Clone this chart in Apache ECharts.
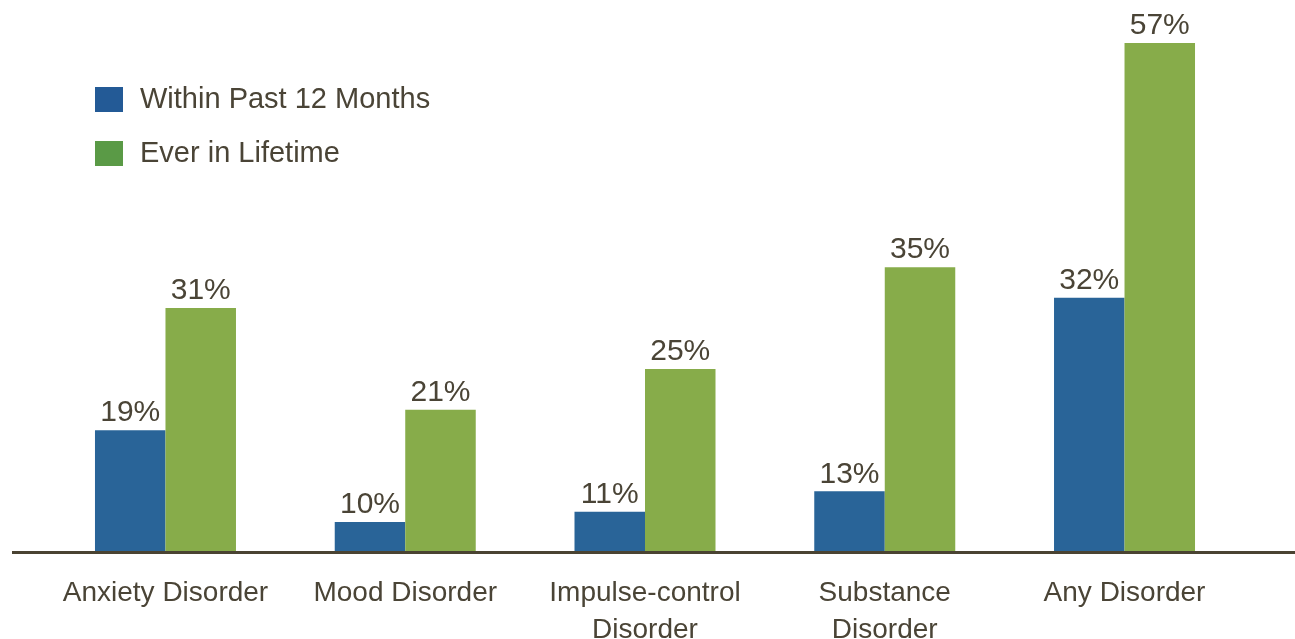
<!DOCTYPE html>
<html>
<head>
<meta charset="utf-8">
<script src="https://cdn.jsdelivr.net/npm/echarts@6/dist/echarts.min.js"></script>
<style>
  html, body { margin: 0; padding: 0; background: #ffffff; }
  #chart { width: 1295px; height: 639px; }
</style>
</head>
<body>
<div id="chart"></div>
<script>
// Prevalence of mental disorders, by time frame
const categories = ['Anxiety Disorder', 'Mood Disorder', 'Impulse-control\nDisorder', 'Substance\nDisorder', 'Any Disorder'];
const pastYear = [19, 10, 11, 13, 32];
const lifetime = [31, 21, 25, 35, 57];
const seriesNames = ['Within Past 12 Months', 'Ever in Lifetime'];

const TEXT = '#4a4436';
const FONT = '"Liberation Sans", Arial, sans-serif';
const AXIS_MIN = 7;

const chart = echarts.init(document.getElementById('chart'), null, { renderer: 'canvas' });

const valueLabel = {
  show: true,
  position: 'top',
  distance: 2,
  formatter: p => p.value + '%',
  color: TEXT,
  fontFamily: FONT,
  fontSize: 30
};

chart.setOption({
  backgroundColor: '#ffffff',
  animation: false,
  legend: {
    orient: 'vertical',
    left: 90,
    top: 80,
    itemWidth: 28,
    itemHeight: 25,
    itemGap: 25,
    icon: 'rect',
    textStyle: { color: TEXT, fontFamily: FONT, fontSize: 29, padding: [0, 0, 0, 12] },
    data: [
      { name: seriesNames[0], itemStyle: { color: '#235a96' } },
      { name: seriesNames[1], itemStyle: { color: '#5a9a46' } }
    ]
  },
  grid: { left: 45.6, right: 50.6, top: 43, bottom: 86.5, outerBoundsMode: 'none', containLabel: false },
  xAxis: {
    type: 'category',
    data: categories,
    axisLine: { show: false },
    axisTick: { show: false },
    axisLabel: {
      color: TEXT,
      fontFamily: FONT,
      fontSize: 28,
      lineHeight: 37,
      margin: 22,
      interval: 0
    }
  },
  yAxis: {
    type: 'value',
    min: AXIS_MIN,
    max: 57,
    show: false,
    splitLine: { show: false }
  },
  series: [
    {
      name: seriesNames[0],
      type: 'bar',
      data: pastYear,
      barWidth: 70.5,
      barGap: '0%',
      itemStyle: { color: '#296498' },
      label: valueLabel
    },
    {
      name: seriesNames[1],
      type: 'bar',
      data: lifetime,
      barWidth: 70.5,
      barGap: '0%',
      itemStyle: { color: '#87ac4a' },
      label: valueLabel
    }
  ]
});

// Baseline across the plot, placed at the value axis origin
function drawBaseline() {
  const y = chart.convertToPixel({ yAxisIndex: 0 }, AXIS_MIN);
  chart.setOption({
    graphic: [{
      type: 'line',
      z: 100,
      shape: { x1: 12, y1: y, x2: 1295, y2: y },
      style: { stroke: '#4a4332', lineWidth: 3 }
    }]
  });
}
drawBaseline();
</script>
</body>
</html>
